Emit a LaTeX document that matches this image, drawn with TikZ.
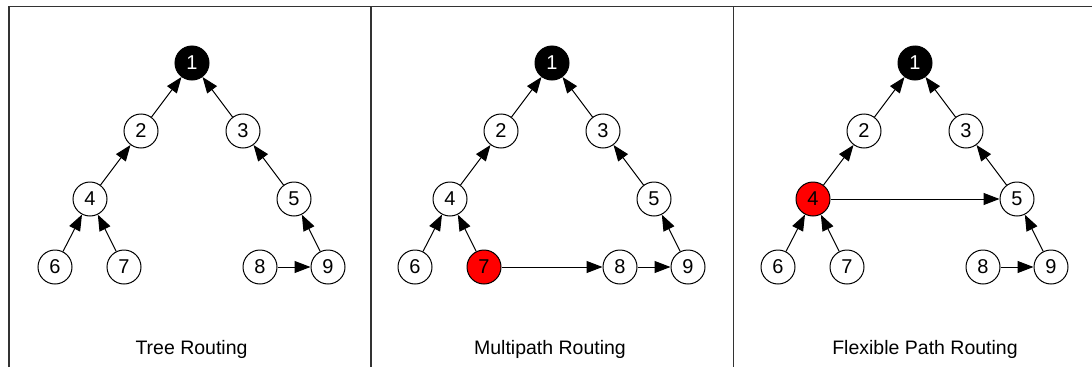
\documentclass[tikz,border=0pt]{standalone}
\usepackage{fontspec}
\setmainfont{Liberation Sans}
\usetikzlibrary{arrows.meta}
\begin{document}
\begin{tikzpicture}[x=1pt,y=-1pt,
  nd/.style={circle, draw=black, line width=1pt, fill=white, minimum size=34pt,
             inner sep=0pt, font=\fontsize{20}{20}\selectfont},
  sink/.style={nd, fill=black, text=white},
  hot/.style={nd, fill=red},
  link/.style={-{Triangle[length=16pt,width=12pt]}, line width=1pt},
  frame/.style={line width=1.4pt, draw=black!80},
  caption/.style={anchor=base, font=\fontsize{19.5}{19.5}\selectfont}]
\useasboundingbox (0,0) rectangle (1092,367);

% panel frame
\draw[frame] (9,367) -- (9,6.7) -- (1092,6.7);
\draw[frame] (371,6.7) -- (371,367);
\draw[frame] (733.5,6.7) -- (733.5,367);

% tree routing
\node[sink] (a1) at (192,63) {1};
\node[nd] (a2) at (141,131) {2};
\node[nd] (a3) at (243,131) {3};
\node[nd] (a4) at (90,199) {4};
\node[nd] (a5) at (294,199) {5};
\node[nd] (a6) at (55,267) {6};
\node[nd] (a7) at (124,267) {7};
\node[nd] (a8) at (260,267) {8};
\node[nd] (a9) at (328,267) {9};
\draw[link] (a2) -- (a1);
\draw[link] (a3) -- (a1);
\draw[link] (a4) -- (a2);
\draw[link] (a5) -- (a3);
\draw[link] (a6) -- (a4);
\draw[link] (a7) -- (a4);
\draw[link] (a9) -- (a5);
\draw[link] (a8) -- (a9);
\node[caption] (ta) at (191.5,354) {Tree Routing};

% multipath routing
\begin{scope}[xshift=360pt]
\node[sink] (b1) at (192,63) {1};
\node[nd] (b2) at (141,131) {2};
\node[nd] (b3) at (243,131) {3};
\node[nd] (b4) at (90,199) {4};
\node[nd] (b5) at (294,199) {5};
\node[nd] (b6) at (55,267) {6};
\node[hot] (b7) at (124,267) {7};
\node[nd] (b8) at (260,267) {8};
\node[nd] (b9) at (328,267) {9};
\draw[link] (b2) -- (b1);
\draw[link] (b3) -- (b1);
\draw[link] (b4) -- (b2);
\draw[link] (b5) -- (b3);
\draw[link] (b6) -- (b4);
\draw[link] (b7) -- (b4);
\draw[link] (b9) -- (b5);
\draw[link] (b8) -- (b9);
\draw[link] (b7) -- (b8);
\node[caption] (tb) at (190,354) {Multipath Routing};
\end{scope}

% flexible path routing
\begin{scope}[xshift=723pt]
\node[sink] (c1) at (192,63) {1};
\node[nd] (c2) at (141,131) {2};
\node[nd] (c3) at (243,131) {3};
\node[hot] (c4) at (90,199) {4};
\node[nd] (c5) at (294,199) {5};
\node[nd] (c6) at (55,267) {6};
\node[nd] (c7) at (124,267) {7};
\node[nd] (c8) at (260,267) {8};
\node[nd] (c9) at (328,267) {9};
\draw[link] (c2) -- (c1);
\draw[link] (c3) -- (c1);
\draw[link] (c4) -- (c2);
\draw[link] (c5) -- (c3);
\draw[link] (c6) -- (c4);
\draw[link] (c7) -- (c4);
\draw[link] (c9) -- (c5);
\draw[link] (c8) -- (c9);
\draw[link] (c4) -- (c5);
\node[caption] (tc) at (202,354) {Flexible Path Routing};
\end{scope}
\end{tikzpicture}
\end{document}
